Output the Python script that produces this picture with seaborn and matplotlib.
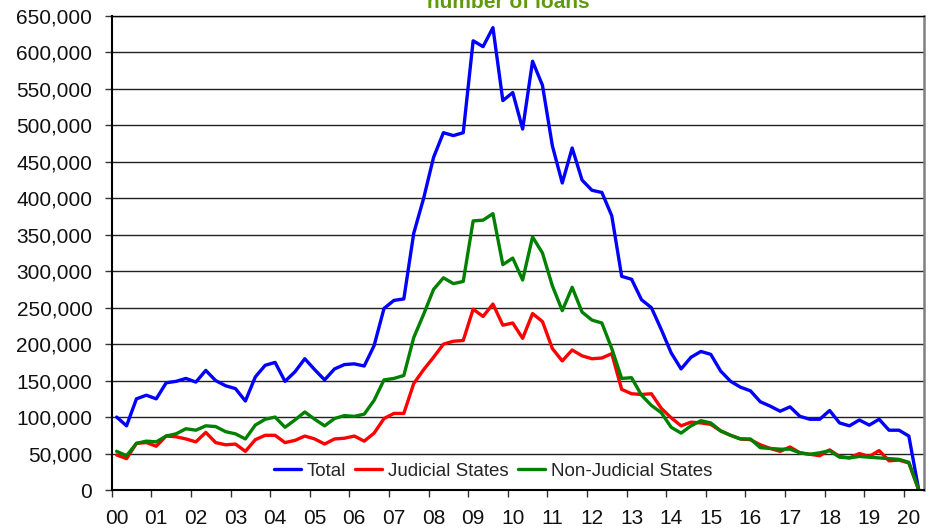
import numpy as np
import pandas as pd
import matplotlib
matplotlib.use("Agg")
import matplotlib.pyplot as plt
import seaborn as sns
from matplotlib.ticker import FuncFormatter

# ---- data (thousands of loans, quarterly 2000Q1 .. 2020Q2) ----
year_labels = ["00", "01", "02", "03", "04", "05", "06", "07", "08", "09", "10",
               "11", "12", "13", "14", "15", "16", "17", "18", "19", "20"]
series_names = ["Total", "Judicial States", "Non-Judicial States"]

total = [100, 88, 125, 130, 125, 147, 149, 153, 148, 164,
         150, 143, 139, 122, 155, 171, 175, 149, 162, 180,
         165, 151, 166, 172, 173, 170, 198, 249, 260, 262,
         352, 400, 456, 490, 486, 490, 616, 608, 634, 534,
         545, 495, 588, 555, 472, 421, 469, 425, 411, 408,
         376, 293, 289, 261, 250, 220, 188, 166, 182, 190,
         186, 163, 149, 141, 136, 121, 115, 108, 114, 101,
         97, 97, 109, 92, 88, 96, 89, 97, 82, 82,
         74, 0]
judicial = [48, 43, 64, 65, 60, 74, 73, 70, 66, 79,
            65, 62, 63, 53, 69, 75, 75, 65, 68, 74,
            70, 63, 70, 71, 74, 67, 78, 98, 105, 105,
            146, 165, 182, 200, 204, 205, 248, 238, 255, 226,
            229, 208, 242, 231, 194, 177, 192, 184, 180, 181,
            187, 138, 132, 131, 132, 112, 99, 88, 93, 92,
            90, 81, 75, 70, 69, 62, 57, 53, 59, 51,
            49, 47, 55, 46, 44, 50, 46, 54, 40, 41,
            37, 0]
non_judicial = [53, 47, 64, 67, 66, 74, 77, 84, 82, 88,
                87, 80, 77, 70, 89, 97, 100, 86, 96, 107,
                97, 88, 98, 102, 101, 104, 123, 151, 153, 157,
                209, 241, 275, 291, 283, 286, 369, 370, 379, 309,
                318, 288, 347, 325, 280, 246, 278, 244, 233, 229,
                194, 153, 154, 130, 116, 106, 86, 78, 88, 95,
                92, 81, 75, 70, 70, 58, 57, 56, 56, 51,
                49, 51, 54, 45, 44, 46, 45, 44, 43, 42,
                38, 0]

sns.set_theme(style="white")
plt.rcParams["font.family"] = ["Liberation Sans", "DejaVu Sans"]

n = len(total)
quarter = np.arange(n)
df = pd.DataFrame({
    "quarter": np.tile(quarter, 3),
    "loans": np.concatenate([total, judicial, non_judicial]) * 1000,
    "series": np.repeat(series_names, n),
})

fig = plt.figure(figsize=(9.36, 5.32), dpi=100)
ax = fig.add_axes([111.7 / 936, 1 - 490 / 532, 812 / 936, 474 / 532])

sns.lineplot(data=df, x="quarter", y="loans", hue="series",
             hue_order=series_names,
             palette=["#0000ff", "#ff0000", "#008000"],
             linewidth=2.4, ax=ax)

ax.set_xlim(-0.5, n - 0.5)
ax.set_ylim(0, 650000)
ax.set_yticks(np.arange(0, 650001, 50000))
ax.yaxis.set_major_formatter(FuncFormatter(lambda v, p: f"{int(v):,}"))
ax.set_xticks(np.arange(0, 4 * len(year_labels), 4))
ax.set_xticklabels(year_labels)
ax.set_xticks(np.arange(-0.5, n - 0.5, 4), minor=True)
ax.tick_params(axis="x", which="major", length=0, pad=14, labelsize=15, labelcolor="#111111")
ax.tick_params(axis="x", which="minor", length=5, width=1, color="#333333", direction="out", bottom=True)
ax.tick_params(axis="y", length=5, width=1, color="#333333", direction="out", left=True,
               pad=9, labelsize=15, labelcolor="#111111")
ax.set_xlabel("")
ax.set_ylabel("")

ax.grid(axis="y", color="#222222", linewidth=1.0)
ax.set_axisbelow(True)
for s in ["left", "bottom"]:
    ax.spines[s].set_color("#000000")
    ax.spines[s].set_linewidth(1.5)
ax.spines["top"].set_color("#000000")
ax.spines["top"].set_linewidth(1.0)
ax.spines["right"].set_color("#808080")
ax.spines["right"].set_linewidth(1.8)

handles, labels = ax.get_legend_handles_labels()
ax.legend(handles, labels, loc="center", bbox_to_anchor=((493 - 111.7) / 812, (490 - 471) / 474),
          ncol=3, frameon=False, fontsize=13.5, handlelength=1.45, handletextpad=0.3,
          columnspacing=0.5, borderaxespad=0, borderpad=0)

fig.text(508 / 936, 1 - 8 / 532, "number of loans", color="#5f9a0a",
         fontweight="bold", fontsize=15, ha="center", va="baseline")

fig.savefig("out.png", dpi=100, facecolor="white")
